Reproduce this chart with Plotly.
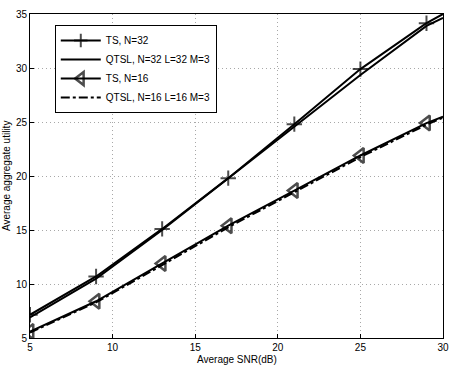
import plotly.graph_objects as go

# SNR points (markers every 4 dB, curves end at 30 dB)
snr = [5, 9, 13, 17, 21, 25, 29, 30]

ts_32 = [7.15, 10.7, 15.1, 19.8, 24.8, 29.9, 34.15, 35.0]
qtsl_32 = [6.9, 10.5, 15.0, 19.8, 24.6, 29.35, 33.9, 34.65]
ts_16 = [5.6, 8.4, 11.9, 15.4, 18.65, 21.9, 24.9, 25.5]
qtsl_16 = [5.5, 8.3, 11.75, 15.25, 18.5, 21.75, 24.75, 25.4]

names = ["TS, N=32", "QTSL, N=32 L=32 M=3", "TS, N=16", "QTSL, N=16 L=16 M=3"]

fig = go.Figure()
fig.add_trace(go.Scatter(x=snr, y=ts_32, name=names[0], mode="lines+markers",
                         line=dict(color="black", width=2),
                         marker=dict(symbol="cross-thin-open", size=[11] * 7 + [0],
                                     line=dict(color="black", width=2))))
fig.add_trace(go.Scatter(x=snr, y=qtsl_32, name=names[1], mode="lines",
                         line=dict(color="black", width=2)))
fig.add_trace(go.Scatter(x=snr, y=ts_16, name=names[2], mode="lines+markers",
                         line=dict(color="black", width=2),
                         marker=dict(symbol="triangle-left-open", size=[13] * 7 + [0],
                                     line=dict(color="black", width=2.5))))
fig.add_trace(go.Scatter(x=snr, y=qtsl_16, name=names[3], mode="lines",
                         line=dict(color="black", width=2, dash="dashdot")))

axis_style = dict(showline=True, mirror=True, linecolor="black", linewidth=1,
                  ticks="inside", ticklen=4, tickcolor="black",
                  showgrid=True, gridcolor="#a8a8a8", griddash="1px,3px", gridwidth=1,
                  zeroline=False, tickfont=dict(size=10, color="black"),
                  automargin=False)

fig.update_xaxes(range=[5, 30], dtick=5, **axis_style)
fig.update_yaxes(range=[5, 35], dtick=5, **axis_style)

fig.update_layout(
    width=457, height=366,
    margin=dict(l=30, r=14, t=14, b=28, autoexpand=False),
    plot_bgcolor="white", paper_bgcolor="white",
    font=dict(family="Liberation Sans, Arial, sans-serif", size=10, color="black"),
    legend=dict(x=0.06, y=0.966, xanchor="left", yanchor="top",
                bgcolor="white", bordercolor="black", borderwidth=1,
                font=dict(size=10), tracegroupgap=0, itemwidth=40),
    annotations=[
        dict(text="Average SNR(dB)", x=0.5, y=-0.043, xref="paper", yref="paper",
             xanchor="center", yanchor="top", showarrow=False, font=dict(size=10)),
        dict(text="Average aggregate utility", x=-0.058, y=0.5, xref="paper", yref="paper",
             xanchor="center", yanchor="middle", textangle=-90, showarrow=False,
             font=dict(size=10)),
    ],
)

fig.write_html("out.html", config={"displayModeBar": False},
               post_script="document.body.style.margin='0';")
